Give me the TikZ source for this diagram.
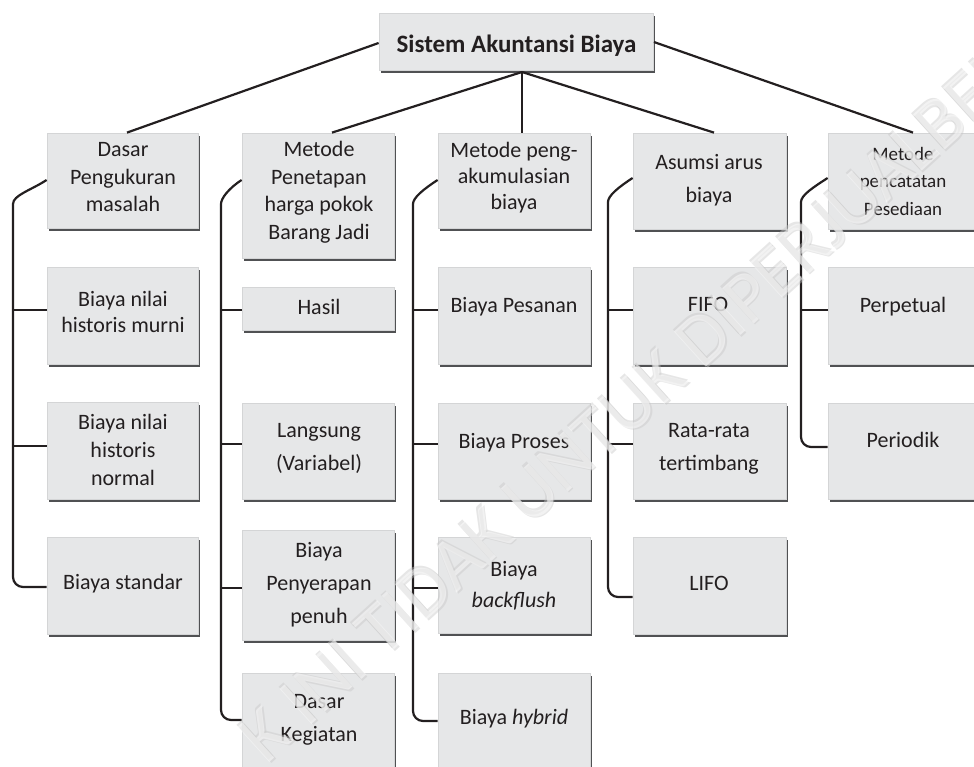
\documentclass[tikz,border=0pt]{standalone}
\usepackage{fontspec}
\setmainfont{Carlito}
\usetikzlibrary{shadows}

\definecolor{boxfill}{RGB}{230,231,232}
\definecolor{boxedge}{RGB}{212,213,214}
\definecolor{boxshade}{RGB}{80,81,83}
\definecolor{ink}{RGB}{35,31,32}

% fixed strut so that a caption's centre sits 5.5pt above its baselines' mean
\newcommand\tstrut{\rule[-6pt]{0pt}{17pt}}

% \panelbox{name}{left}{top}{right}{bottom}: a bevelled grey box
\newcommand\panelbox[5]{%
  \node[panel, minimum width={(#4-#2-1.5)*1pt}, minimum height={(#5-#3-3)*1pt}]
    (#1) at ({(#2+#4-1.5)/2},{(#3+#5-3)/2}) {};}

\begin{document}
\begin{tikzpicture}[x=1pt,y=-1pt,
  panel/.style={fill=boxfill, draw=boxedge, line width=0.8pt, inner sep=0pt,
    general shadow={fill=boxshade, shadow xshift=1.5pt, shadow yshift=-3pt}},
  caption/.style={align=center, inner sep=0pt, text=ink,
    font=\fontsize{22}{27.5}\selectfont,
    execute at begin node=\tstrut, execute at end node=\tstrut},
  loose/.style={font=\fontsize{22}{33}\selectfont},
  link/.style={draw=ink, line width=2.2pt},
  wmark/.style={inner sep=0pt, anchor=west, rotate=42.2,
    font=\fontsize{74}{74}\selectfont}]

\useasboundingbox (0,0) rectangle (974,766);
\clip (0,0) rectangle (974,766);

% ---- boxes ----
\panelbox{top}{379}{13}{655}{73}

\panelbox{h1}{47}{133}{200}{231}
\panelbox{a1}{47}{267}{200}{367}
\panelbox{a2}{47}{402}{200}{502}
\panelbox{a3}{47}{537}{200}{637}

\panelbox{h2}{242}{133}{396}{261}
\panelbox{b1}{242}{287}{396}{333}
\panelbox{b2}{242}{403}{396}{502}
\panelbox{b3}{242}{530}{396}{643}
\panelbox{b4}{242}{673}{396}{775}

\panelbox{h3}{438}{133}{592}{231}
\panelbox{c1}{438}{267}{592}{367}
\panelbox{c2}{438}{403}{592}{502}
\panelbox{c3}{438}{537}{592}{636}
\panelbox{c4}{438}{673}{592}{775}

\panelbox{h4}{633}{133}{788}{232}
\panelbox{d1}{633}{267}{788}{367}
\panelbox{d2}{633}{403}{788}{502}
\panelbox{d3}{633}{537}{788}{637}

\panelbox{h5}{828}{133}{980}{232}
\panelbox{e1}{828}{267}{980}{367}
\panelbox{e2}{828}{403}{980}{502}

% ---- captions ----
\node[caption, font=\bfseries\fontsize{25}{30}\selectfont] (top-t) at (516.5,47) {Sistem Akuntansi Biaya};

\node[caption] (h1-t) at (123,180) {Dasar\\Pengukuran\\masalah};
\node[caption, font=\fontsize{22}{26}\selectfont] (a1-t) at (123,314.5) {Biaya nilai\\historis murni};
\node[caption, font=\fontsize{22}{28}\selectfont] (a2-t) at (123,452.5) {Biaya nilai\\historis\\normal};
\node[caption] (a3-t) at (123,584.5) {Biaya standar};

\node[caption] (h2-t) at (319,193.5) {Metode\\Penetapan\\harga pokok\\Barang Jadi};
\node[caption] (b1-t) at (319,309.5) {Hasil};
\node[caption, loose] (b2-t) at (319,449.5) {Langsung\\(Variabel)};
\node[caption, loose] (b3-t) at (319,586) {Biaya\\Penyerapan\\penuh};
\node[caption, loose] (b4-t) at (319,720.5) {Dasar\\Kegiatan};

\node[caption, font=\fontsize{22}{26}\selectfont] (h3-t) at (514,178.5) {Metode peng-\\akumulasian\\biaya};
\node[caption] (c1-t) at (514,307.5) {Biaya Pesanan};
\node[caption] (c2-t) at (514,443.5) {Biaya Proses};
\node[caption, font=\fontsize{22}{31}\selectfont] (c3-t) at (514,587) {Biaya\\\textit{backflush}};
\node[caption] (c4-t) at (514,719.5) {Biaya \textit{hybrid}};

\node[caption, loose] (h4-t) at (709,181) {Asumsi arus\\biaya};
\node[caption] (d1-t) at (708,307.5) {FIFO};
\node[caption, loose] (d2-t) at (709,450) {Rata-rata\\tertimbang};
\node[caption] (d3-t) at (709,586.5) {LIFO};

\node[caption, font=\fontsize{19}{27.5}\selectfont] (h5-t) at (903,184) {Metode\\pencatatan\\Pesediaan};
\node[caption] (e1-t) at (903,307.5) {Perpetual};
\node[caption] (e2-t) at (903,442.5) {Periodik};

% ---- connectors from the root ----
\coordinate (hub) at (522,72);
\draw[link] (top.west |- 0,43) -- (h1.north -| 127,0);
\draw[link] (hub) -- (h2.north -| 332,0);
\draw[link] (hub) -- (h3.north -| 522,0);
\draw[link] (hub) -- (h4.north -| 714,0);
\draw[link] (top.east |- 0,42) -- (h5.north -| 913,0);

% ---- column brackets ----
\draw[link, rounded corners=10pt] (h1.west |- 0,180) to[out=213,in=90] (13,214) -- (13,587) -- (a3.west |- 0,587);
\draw[link] (13,310) -- (a1.west |- 0,310);
\draw[link] (13,446) -- (a2.west |- 0,446);

\draw[link, rounded corners=10pt] (h2.west |- 0,180) to[out=213,in=90] (221,214) -- (221,720) -- (b4.west |- 0,720);
\draw[link] (221,310) -- (b1.west |- 0,310);
\draw[link] (221,444) -- (b2.west |- 0,444);
\draw[link] (221,588) -- (b3.west |- 0,588);

\draw[link, rounded corners=10pt] (h3.west |- 0,180) to[out=213,in=90] (413,214) -- (413,721) -- (c4.west |- 0,721);
\draw[link] (413,310) -- (c1.west |- 0,310);
\draw[link] (413,444) -- (c2.west |- 0,444);
\draw[link] (413,588) -- (c3.west |- 0,588);

\draw[link, rounded corners=10pt] (h4.west |- 0,178) to[out=213,in=90] (608,212) -- (608,597) -- (d3.west |- 0,597);
\draw[link] (608,310) -- (d1.west |- 0,310);
\draw[link] (608,444) -- (d2.west |- 0,444);

\draw[link, rounded corners=10pt] (h5.west |- 0,178) to[out=213,in=90] (801,212) -- (801,447) -- (e2.west |- 0,447);
\draw[link] (801,310) -- (e1.west |- 0,310);

% ---- watermark across the sheet ----
\node[wmark, text=black!22, opacity=.45] (wm-a) at (252.5,749.5) {K INI TIDAK UNTUK DIPERJUALBELIKAN};
\node[wmark, text=black!22, opacity=.45] (wm-b) at (249.5,746.5) {K INI TIDAK UNTUK DIPERJUALBELIKAN};
\node[wmark, text=white, opacity=.5] (wm) at (251,748) {K INI TIDAK UNTUK DIPERJUALBELIKAN};
\end{tikzpicture}
\end{document}
